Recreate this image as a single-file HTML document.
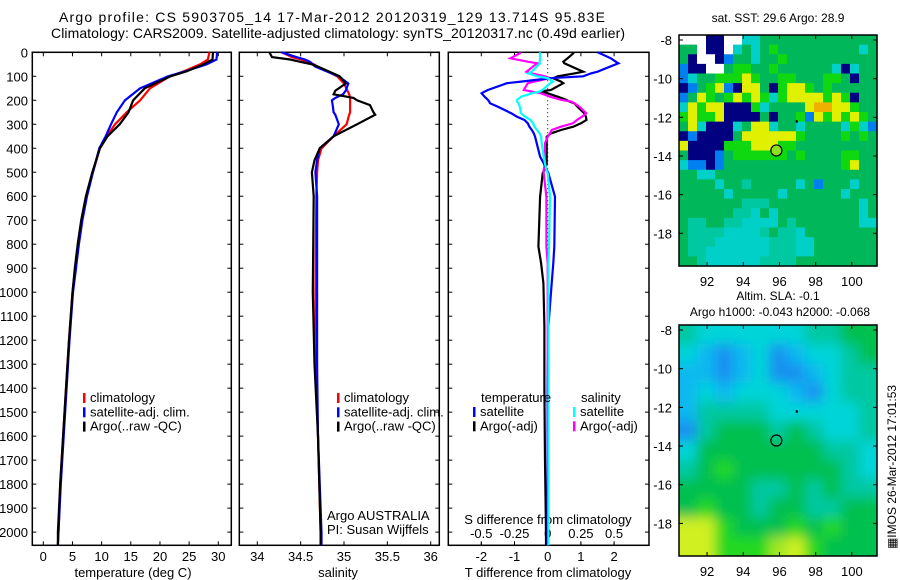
<!DOCTYPE html>
<html><head><meta charset="utf-8"><style>
body{margin:0;background:#fff;}
svg{display:block;font-family:"Liberation Sans",sans-serif;}
text{fill:#000;}
</style></head><body>
<svg id="c" width="900" height="580" viewBox="0 0 900 580" xmlns="http://www.w3.org/2000/svg">
<defs><filter id="blur" x="0" y="0" width="1" height="1"><feGaussianBlur stdDeviation="6"/></filter>
<clipPath id="m2clip"><rect x="679" y="325" width="198" height="231"/></clipPath></defs>
<text x="59" y="22" font-size="14" textLength="546" lengthAdjust="spacing">Argo profile: CS 5903705_14 17-Mar-2012 20120319_129 13.714S 95.83E</text>
<text x="51" y="38" font-size="14" textLength="574" lengthAdjust="spacing">Climatology: CARS2009. Satellite-adjusted climatology: synTS_20120317.nc (0.49d earlier)</text>
<text x="778" y="22" font-size="12" text-anchor="middle">sat. SST: 29.6 Argo: 28.9</text>
<text x="778" y="300" font-size="12" text-anchor="middle">Altim. SLA: -0.1</text>
<text x="780" y="316" font-size="12" text-anchor="middle">Argo h1000: -0.043 h2000: -0.068</text>
<text x="0" y="0" font-size="12" text-anchor="middle" transform="translate(896,467) rotate(-90)">&#9638;IMOS 26-Mar-2012 17:01:53</text>
<g id="g"></g>
</svg>
<script>
// ---- data ----
const tDepth=[0,30,50,80,100,150,200,250,300,350,400,500,600,700,800,900,1000,1200,1400,1600,1800,2000,2055];
const tClim=[28.5,28.2,26.9,24.0,21.7,18.3,16.6,14.3,12.3,10.9,9.7,8.5,7.4,6.6,6.0,5.5,5.0,4.4,3.9,3.4,2.9,2.6,2.5];
const tSat=[29.8,29.7,28.0,24.2,21.4,16.6,14.0,12.6,11.6,10.7,9.6,8.5,7.5,6.7,6.1,5.6,5.1,4.5,4.0,3.5,3.0,2.6,2.5];
const tArgo=[29.1,29.0,27.5,24.5,21.8,17.4,15.4,14.6,13.1,11.0,9.7,8.4,7.3,6.5,5.9,5.4,5.0,4.4,3.9,3.4,2.9,2.5,2.5];
const sDepth=[0,20,30,40,50,60,100,130,160,175,190,200,220,250,260,300,350,400,450,500,600,1000,1300,1600,2000,2055];
const sClim=[34.28,34.4,34.5,34.58,34.65,34.7,34.92,35.0,35.04,35.06,35.07,35.07,35.07,35.07,35.06,35.03,34.88,34.74,34.70,34.69,34.68,34.67,34.67,34.70,34.73,34.73];
const sSat=[34.28,34.45,34.55,34.61,34.64,34.67,34.94,35.05,35.02,34.99,34.9,34.86,34.87,34.88,34.9,34.94,34.88,34.72,34.69,34.67,34.69,34.69,34.69,34.70,34.74,34.74];
const sArgo=[34.14,34.17,34.38,34.5,34.63,34.7,34.95,35.02,34.9,34.88,35.11,35.15,35.30,35.34,35.36,35.15,34.88,34.72,34.66,34.63,34.65,34.64,34.66,34.70,34.73,34.73];
const dDepth=[0,4,25,39,46,81,88,100,108,122,129,157,164,171,185,198,206,212,227,254,268,282,296,310,324,338,352,379,435,463,490,504,602,810,879,962,1143,1400,1700,2000,2055];
const dTSat=[1.5,1.57,1.9,2.05,2.13,1.5,1.3,1.07,0.07,-0.8,-1.23,-1.8,-1.9,-1.99,-1.9,-1.8,-1.76,-1.74,-1.5,-1.1,-0.93,-0.7,-0.6,-0.55,-0.48,-0.42,-0.38,-0.33,-0.23,-0.12,-0.03,0.02,0.22,0.2,0.17,0.12,0.02,0.0,0.0,0.0,0.0];
const dTArgo=[0.77,0.77,0.6,0.47,0.5,1.07,0.8,0.3,0.17,0.4,0.47,0.1,-0.23,0.0,0.3,0.55,0.67,0.8,0.9,1.1,1.15,1.17,1.0,0.77,0.4,0.1,-0.03,-0.03,-0.03,-0.03,-0.1,-0.15,-0.23,-0.28,-0.2,-0.13,-0.1,-0.1,-0.08,-0.05,-0.05];
const dSSat=[-0.06,-0.058,-0.058,-0.06,-0.058,-0.12,-0.146,-0.08,0.0,0.04,0.02,-0.04,-0.06,-0.12,-0.2,-0.23,-0.23,-0.22,-0.21,-0.2,-0.17,-0.13,-0.11,-0.1,-0.08,-0.06,-0.05,-0.045,-0.03,-0.02,-0.01,0.0,0.017,0.01,0.005,0.005,0.005,0.005,0.005,0.005,0.005];
const dSArgo=[-0.21,-0.21,-0.28,-0.15,-0.08,-0.16,-0.12,-0.02,0.017,-0.1,-0.15,-0.18,-0.12,-0.05,0.017,0.1,0.18,0.2,0.24,0.29,0.26,0.22,0.19,0.1,0.03,0.017,0.0,-0.02,-0.02,-0.02,-0.03,-0.03,-0.01,-0.01,0.0,0.0,0.0,0.0,0.0,0.0,0.0];
const depthTicks=[0,100,200,300,400,500,600,700,800,900,1000,1100,1200,1300,1400,1500,1600,1700,1800,1900,2000];
const tempTicks=[0,5,10,15,20,25,30];
const salTicks=[34,34.5,35,35.5,36];
const salTickLabels=["34","34.5","35","35.5","36"];
const dTTicks=[-2,-1,0,1,2];
const dSTicks=[-0.5,-0.25,0,0.25,0.5];
const dSTickLabels=["-0.5","-0.25","0","0.25","0.5"];
const lonTicks=[92,94,96,98,100];
const latTicks=[-8,-10,-12,-14,-16,-18];
const argoLon=95.83, argoLat=-13.714;
const sstGrid=[
"WWWNNWWCCGGGGGGGGGGGGG","GGWNNWCGCGLGGGGGGGGGCG","GNWWNBGGCGGLGGGGGGGGGG","BNNWWGLLGGLGGGGGGCNCGG",
"BCGGLLLYLGGLLGGGLLGNGG","NBGLYBNYYGNLYYLGLGGGGG","BGYLGLYLYLCLYYYYLYLNGG","CYLYYNNNLCGGGGYOOYYLGG",
"LYLLYNNNNGNGGLBYLYLYLG","GYCNNNCGYYCGGCGGGGCLCB","NBNNNNGYYYYYYLGGGGLGLG","YNNNNLLLYYYLLGGGGGGGGG",
"GNNNBGLLLLLLGLGGGGLLGG","CBBNBGGGGGGGGGGGGGLYGG","GGCCGGGGGGGGGGGGGGGGGG","GGGGCGGTGGGGGCGBGGGCGG",
"GGGGGCGGGGGCGGGGGGCGGG","GGGGGGGTTTGGGGGGGGGGCG","GGGGGGTTCGCGGGGGGGGGCG","GTTGGTTCCCCGTGGGGGGGCC",
"GTTTTCCCCTGTTCGGGGGGGG","GTTTCCCCCCTTTCCGGGGGGG","GTTCCCCCCCTTTCCGGGGGGG","GGTCCCCCCTTTTGGGGGGGGG"];
const slaGrid=[
"TCCCCCCTTGG","CbBbCBbCCTG","bbBbCBBbCTT","bCbCCCbBCTT","bTTTTCCCCCT","BTGGGTGTCCT",
"CGGGGGGGTTC","TGLGGGGGGTC","GGGGTTGTGTT","GLGGTGGTTGG","YYLGGGLGLGG","YYLLLyYLGGG"];
// ---- helpers ----
const NS="http://www.w3.org/2000/svg", G=document.getElementById('g');
function mk(tag,at,parent){const e=document.createElementNS(NS,tag);for(const k in at)e.setAttribute(k,at[k]);(parent||G).appendChild(e);return e;}
const yTop=52.3, yScale=0.2399;
const yD=d=>yTop+d*yScale;
const xT=v=>43.3+v*5.833;
const xS=v=>257.3+(v-34)*86.7;
const xDT=v=>547.7+v*33.2;
const xDS=v=>547.7+v*132.8;
const bottom=545.3;
function frame(x0,x1,name){
  const r=mk('rect',{x:x0,y:yTop,width:x1-x0,height:bottom-yTop,fill:'none',stroke:'#000','stroke-width':1.5});
  
  
  depthTicks.forEach(d=>{mk('line',{x1:x0,x2:x0+4,y1:yD(d),y2:yD(d),stroke:'#000'});mk('line',{x1:x1,x2:x1-4,y1:yD(d),y2:yD(d),stroke:'#000'});});
}
function line(ds,vs,fx,color,name){
  const pts=ds.map((d,i)=>fx(vs[i]).toFixed(1)+','+yD(d).toFixed(1)).join(' ');
  const p=mk('polyline',{points:pts,fill:'none',stroke:color,'stroke-width':2.2});
  
  
}
function txt(x,y,s,sz,anchor,name){const t=mk('text',{x:x,y:y,'font-size':sz||13,'text-anchor':anchor||'start'});t.textContent=s;
  
  return t;}
depthTicks.forEach(d=>{txt(28,yD(d)+5,String(d),13,'end','depth-tick-label');});
// panel 1
frame(32.3,231.3,'temperature-panel');
tempTicks.forEach(v=>{mk('line',{x1:xT(v),x2:xT(v),y1:bottom,y2:bottom-4,stroke:'#000'});mk('line',{x1:xT(v),x2:xT(v),y1:yTop,y2:yTop+4,stroke:'#000'});txt(xT(v),561,String(v),13,'middle','temperature-tick-label');});
txt(133,577,'temperature (deg C)',13,'middle','temperature-axis-title');
line(tDepth,tClim,xT,'#ff0000','temp-climatology-line');
line(tDepth,tSat,xT,'#0000ff','temp-satellite-line');
line(tDepth,tArgo,xT,'#000000','temp-argo-line');
// panel 2
frame(239.3,439.3,'salinity-panel');
salTicks.forEach((v,i)=>{mk('line',{x1:xS(v),x2:xS(v),y1:bottom,y2:bottom-4,stroke:'#000'});mk('line',{x1:xS(v),x2:xS(v),y1:yTop,y2:yTop+4,stroke:'#000'});txt(xS(v),561,salTickLabels[i],13,'middle','salinity-tick-label');});
txt(338,577,'salinity',13,'middle','salinity-axis-title');
line(sDepth,sClim,xS,'#ff0000','sal-climatology-line');
line(sDepth,sSat,xS,'#0000ff','sal-satellite-line');
line(sDepth,sArgo,xS,'#000000','sal-argo-line');
function legend(x,items,pre){items.forEach((it,i)=>{const y=402+i*14.3;
  mk('rect',{x:x,y:y-9,width:2.5,height:10,fill:it[0]});txt(x+7,y,it[1],13,'start',pre+'-legend-entry');});}
legend(83,[['#ff0000','climatology'],['#0000ff','satellite-adj. clim.'],['#000000','Argo(..raw -QC)']],'temp');
legend(337,[['#ff0000','climatology'],['#0000ff','satellite-adj. clim.'],['#000000','Argo(..raw -QC)']],'sal');
txt(327,520,'Argo AUSTRALIA',13,'start','argo-australia-label');
txt(327,534,'PI: Susan Wijffels',13,'start','pi-label');
// panel 3
frame(448.3,649,'difference-panel');
mk('line',{x1:xDT(0),x2:xDT(0),y1:yTop,y2:bottom,stroke:'#000','stroke-dasharray':'1,3'});
dTTicks.forEach(v=>{mk('line',{x1:xDT(v),x2:xDT(v),y1:bottom,y2:bottom-4,stroke:'#000'});mk('line',{x1:xDT(v),x2:xDT(v),y1:yTop,y2:yTop+4,stroke:'#000'});txt(xDT(v),561,String(v),13,'middle','tdiff-tick-label');});
dSTicks.forEach((v,i)=>{mk('line',{x1:xDS(v),x2:xDS(v),y1:bottom,y2:bottom-3,stroke:'#000'});txt(xDS(v),538,dSTickLabels[i],13,'middle','sdiff-tick-label');});
txt(548,524,'S difference from climatology',13,'middle','sdiff-axis-title');
txt(548,577,'T difference from climatology',13,'middle','tdiff-axis-title');
line(dDepth,dTArgo,xDT,'#000000','tdiff-argo-line');
line(dDepth,dSArgo,xDS,'#ff00ff','sdiff-argo-line');
line(dDepth,dTSat,xDT,'#0000ff','tdiff-satellite-line');
line(dDepth,dSSat,xDS,'#00ffff','sdiff-satellite-line');
txt(481,402,'temperature',13,'start','temperature-legend-header');
txt(581,402,'salinity',13,'start','salinity-legend-header');
[['#0000ff','satellite',473],['#000000','Argo(-adj)',473],['#00ffff','satellite',573],['#ff00ff','Argo(-adj)',573]].forEach((it,i)=>{
  const y=416+(i%2)*14.3;mk('rect',{x:it[2],y:y-9,width:2.5,height:10,fill:it[0]});txt(it[2]+7,y,it[1],13,'start','diff-legend-entry');});
// maps
const mx0=679,mx1=877,lon0=90.45,lonScale=18.1;
const mLon=v=>mx0+(v-lon0)*lonScale;
function map(top,grid,cols,name,blur,latScale){
  const latY=v=>top+5+(-8-v)*latScale;
  const g=mk('g',blur?{'clip-path':'url(#m2clip)'}:{});
  
  
  const inner=mk('g',blur?{filter:'url(#blur)'}:{},g);
  const nr=grid.length,nc=grid[0].length,h=231,w=198;
  if(blur)mk('rect',{x:mx0-20,y:top-20,width:w+40,height:h+40,fill:'#00c060'},inner);
  grid.forEach((row,r)=>{for(let c=0;c<nc;c++){
    const x=mx0+c*w/nc,y=top+r*h/nr;
    const ex=(blur&&c==nc-1)?20:0, ey=(blur&&r==nr-1)?20:0, sx=(blur&&c==0)?20:0, sy=(blur&&r==0)?20:0;
    mk('rect',{x:x-sx,y:y-sy,width:w/nc+0.6+ex+sx,height:h/nr+0.6+ey+sy,fill:cols[row[c]]},inner);}});
  mk('rect',{x:mx0,y:top,width:w,height:h,fill:'none',stroke:'#000','stroke-width':1.5});
  lonTicks.forEach(v=>{mk('line',{x1:mLon(v),x2:mLon(v),y1:top+h,y2:top+h-4,stroke:'#000'});mk('line',{x1:mLon(v),x2:mLon(v),y1:top,y2:top+4,stroke:'#000'});txt(mLon(v),top+h+20,String(v),13,'middle','lon-tick-label');});
  latTicks.forEach(v=>{mk('line',{x1:mx0,x2:mx0+4,y1:latY(v),y2:latY(v),stroke:'#000'});mk('line',{x1:mx1,x2:mx1-4,y1:latY(v),y2:latY(v),stroke:'#000'});txt(mx0-7,latY(v)+5,String(v),13,'end','lat-tick-label');});
  const c=mk('circle',{cx:mLon(argoLon),cy:latY(argoLat),r:5.5,fill:blur?'none':'#90e020',stroke:'#000','stroke-width':1.2});
  
  
  mk('rect',{x:mLon(96.9),y:latY(-12.15),width:2,height:2.5,fill:'#000'});
}
map(35,sstGrid,{W:'#ffffff',N:'#000080',B:'#0080f0',C:'#00d0c8',G:'#00b85a',L:'#10d810',Y:'#e0f000',O:'#f0b000',T:'#00c8a0'},'sst-map',false,19.33);
map(325,slaGrid,{B:'#1890f0',b:'#10b8f0',C:'#00d4d8',T:'#00c8a0',G:'#00c050',L:'#20d820',y:'#a0e820',Y:'#d0f020'},'sla-map',true,19.34);
</script>
</body></html>
